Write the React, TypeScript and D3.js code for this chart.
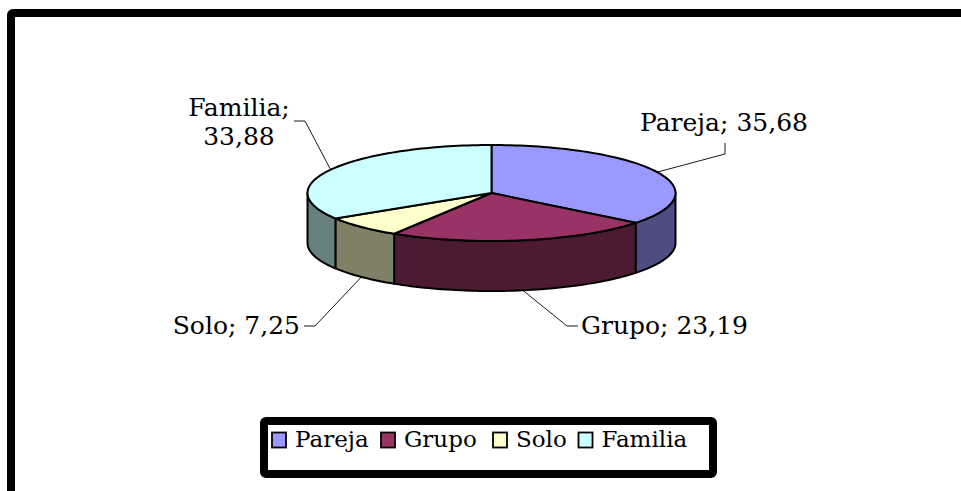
import React from "react";
import * as d3 from "d3";

const categories = ["Pareja", "Grupo", "Solo", "Familia"];
const values = [35.68, 23.19, 7.25, 33.88];
const topColors = ["#9999FF", "#993366", "#FFFFCC", "#CCFFFF"];
const sideColors = ["#4D4D80", "#4D1A33", "#808066", "#668080"];

const W = 961;
const H = 491;
const cx = 491.5;
const cy = 193;
const rx = 184;
const ry = 48;
const depth = 50;
const FONT = "'DejaVu Serif', serif";

function pt(theta: number, dy = 0): [number, number] {
  return [cx + rx * Math.sin(theta), cy - ry * Math.cos(theta) + dy];
}

function arcPts(a0: number, a1: number, dy = 0): [number, number][] {
  const n = Math.max(2, Math.ceil(((a1 - a0) / (2 * Math.PI)) * 240));
  return d3.range(n + 1).map((i) => pt(a0 + ((a1 - a0) * i) / n, dy));
}

const line = d3.line<[number, number]>().x((d) => d[0]).y((d) => d[1]);

const labelLayout = [
  { anchor: "middle", x: 724, y: 131, lines: ["Pareja; 35,68"], leader: [[725, 154], [725, 143]] },
  { anchor: "start", x: 581, y: 334, lines: ["Grupo; 23,19"], leader: [[567, 326], [578, 326]] },
  { anchor: "end", x: 300, y: 334, lines: ["Solo; 7,25"], leader: [[315, 326], [304, 326]] },
  { anchor: "middle", x: 239, y: 116, lines: ["Familia;", "33,88"], leader: [[305, 121], [294, 121]] },
];

export default function App() {
  const pie = d3
    .pie<number>()
    .sort(null)
    .value((d) => d)(values);

  const sides: JSX.Element[] = [];
  const tops: JSX.Element[] = [];
  const leaders: JSX.Element[] = [];
  const labels: JSX.Element[] = [];

  pie.forEach((s, i) => {
    const a0 = s.startAngle;
    const a1 = s.endAngle;
    const s0 = Math.max(a0, Math.PI / 2);
    const s1 = Math.min(a1, (3 * Math.PI) / 2);
    if (s1 > s0) {
      const topEdge = arcPts(s0, s1);
      const botEdge = arcPts(s0, s1, depth).reverse();
      sides.push(
        <path
          key={"side" + i}
          d={line([...topEdge, ...botEdge])! + "Z"}
          fill={sideColors[i]}
          stroke="#000"
          strokeWidth={2}
          strokeLinejoin="round"
        />
      );
    }
    const topPts: [number, number][] = [[cx, cy], ...arcPts(a0, a1)];
    tops.push(
      <path
        key={"top" + i}
        d={line(topPts)! + "Z"}
        fill={topColors[i]}
        stroke="#000"
        strokeWidth={2}
        strokeLinejoin="round"
      />
    );

    const mid = (a0 + a1) / 2;
    const front = Math.cos(mid) < 0;
    const edge = pt(mid, front ? depth : 0);
    const L = labelLayout[i];
    const pts: [number, number][] = [edge, ...(L.leader as [number, number][])];
    leaders.push(
      <path key={"ld" + i} d={line(pts)!} fill="none" stroke="#000" strokeWidth={0.9} />
    );
    labels.push(
      <text
        key={"lb" + i}
        x={L.x}
        y={L.y}
        textAnchor={L.anchor as any}
        fontFamily={FONT}
        fontSize={25}
        fill="#000"
      >
        {L.lines.map((t, j) => (
          <tspan key={j} x={L.x} dy={j === 0 ? 0 : 29}>
            {t}
          </tspan>
        ))}
      </text>
    );
  });

  const legendX = [271.5, 380.5, 492.5, 578];
  const legend = categories.map((c, i) => (
    <g key={"lg" + i}>
      <rect
        x={legendX[i] + 0.5}
        y={432.5}
        width={14}
        height={15}
        fill={topColors[i]}
        stroke="#000"
        strokeWidth={1.8}
      />
      <text
        x={legendX[i] + 23.5}
        y={447}
        fontFamily={FONT}
        fontSize={23}
        fill="#000"
      >
        {c}
      </text>
    </g>
  ));

  return (
    <svg
      width={W}
      height={H}
      style={{ position: "absolute", left: 0, top: 0, background: "#fff" }}
    >
      <rect x={0} y={0} width={W} height={H} fill="#fff" />
      <rect x={11} y={13} width={W + 20} height={H + 20} fill="none" stroke="#000" strokeWidth={8} rx={2} />
      {sides}
      {tops}
      {leaders}
      {labels}
      <rect x={264} y={421} width={449} height={53} fill="#fff" stroke="#000" strokeWidth={8} rx={2} />
      {legend}
    </svg>
  );
}
